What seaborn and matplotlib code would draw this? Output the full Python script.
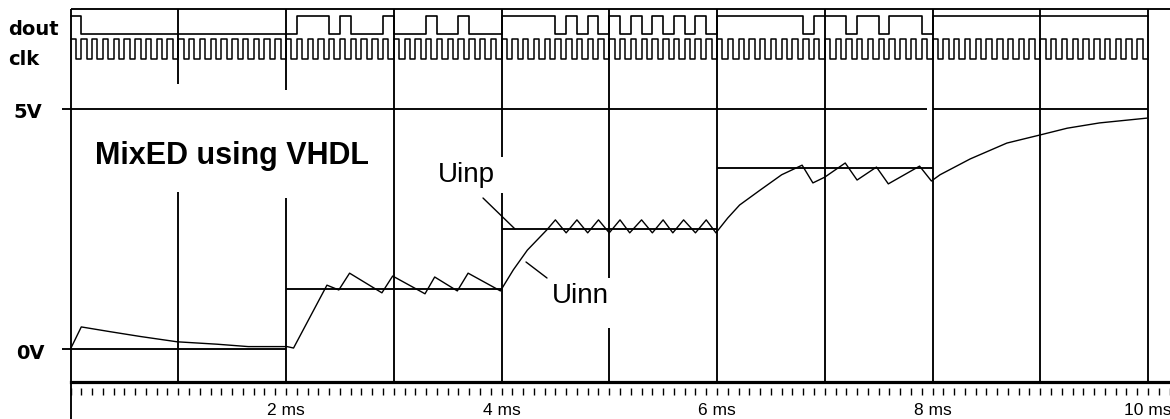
import numpy as np
import matplotlib
matplotlib.use("Agg")
import matplotlib.pyplot as plt
import seaborn as sns

# ---------------- data ----------------
ms_ticks = [0, 1, 2, 3, 4, 5, 6, 7, 8, 9, 10]
tick_labels = ["", "", "2 ms", "", "4 ms", "", "6 ms", "", "8 ms", "", "10 ms"]

bit_period_ms = 0.1
dout_bits = ("1000000000" "0000000000" "0111010001" "0001001000" "1111101010"
             "1010101010" "1111111101" "1101101110" "1111111111" "1111111111")

clk_half_period_ms = 0.05
clk_levels = [1, 0] * 100

uinp_start = [0, 2, 4, 6, 8]
uinp_end = [2, 4, 6, 8, 10]
uinp_volts = [0.0, 1.24, 2.49, 3.77, 5.0]

uinn_t = [0.00, 0.10, 0.37, 0.65, 0.99, 1.36, 1.65, 2.01, 2.07,
          2.38, 2.49, 2.59, 2.89, 2.99, 3.29, 3.38, 3.59, 3.69, 3.99,
          4.11, 4.24, 4.42, 4.50, 4.60, 4.70, 4.80, 4.90, 5.00, 5.10,
          5.19, 5.30, 5.40, 5.50, 5.59, 5.69, 5.80, 5.90, 5.99,
          6.10, 6.21, 6.40, 6.60, 6.79, 6.89, 7.00, 7.19, 7.30, 7.48,
          7.59, 7.88, 7.99,
          8.07, 8.35, 8.69, 9.00, 9.25, 9.55, 9.99]
uinn_v = [0.00, 0.46, 0.36, 0.26, 0.15, 0.10, 0.05, 0.05, 0.02,
          1.33, 1.23, 1.58, 1.17, 1.52, 1.15, 1.50, 1.21, 1.58, 1.21,
          1.65, 2.06, 2.48, 2.69, 2.42, 2.69, 2.42, 2.69, 2.42, 2.69,
          2.42, 2.69, 2.42, 2.69, 2.42, 2.69, 2.42, 2.69, 2.42,
          2.73, 3.00, 3.31, 3.63, 3.83, 3.46, 3.58, 3.875, 3.52, 3.79,
          3.44, 3.81, 3.50,
          3.63, 3.96, 4.29, 4.46, 4.60, 4.71, 4.81]

# ---------------- layout helpers (pixel -> data) ----------------
W, H, DPI = 1170, 419, 100
X0_PX, PX_PER_MS = 70.5, 107.75
Y0_PX, PX_PER_V = 349.0, 48.0


def tx(px):
    return (px - X0_PX) / PX_PER_MS


def vy(py):
    return (Y0_PX - py) / PX_PER_V


sns.set_theme(style="white")
plt.rcParams["font.family"] = ["Liberation Sans", "DejaVu Sans"]

fig = plt.figure(figsize=(W / DPI, H / DPI), dpi=DPI)
ax = fig.add_axes([0, 0, 1, 1])
ax.set_xlim(tx(0), tx(W))
ax.set_ylim(vy(H), vy(0))
ax.set_facecolor("white")

K = "black"
LW = 1.35

# top frame line
ax.hlines(vy(9), 0, tx(W), color=K, lw=LW)

# vertical grid lines (with gaps as in the reference)
grid_gaps = {0: [(9, 419)], 1: [(9, 84), (192, 382)], 2: [(9, 90), (198, 382)],
             4: [(9, 157), (193, 382)], 5: [(9, 278), (328, 382)]}
for m in ms_ticks:
    for (a, b) in grid_gaps.get(m, [(9, 382)]):
        ax.vlines(m, vy(b), vy(a), color=K, lw=LW)

# minor ticks below axis
minor = [round(v, 1) for v in np.arange(0, 10.25, 0.1)]
ax.vlines(minor, vy(395), vy(388), color=K, lw=1.0)

# x axis (bottom spine at data position)
for s in ["top", "left", "right"]:
    ax.spines[s].set_visible(False)
ax.spines["bottom"].set_position(("data", vy(382)))
ax.spines["bottom"].set_bounds(0, tx(W))
ax.spines["bottom"].set_linewidth(2.3)
ax.spines["bottom"].set_color(K)
ax.set_yticks([])
ax.set_xticks(ms_ticks)
ax.set_xticklabels(tick_labels)
ax.tick_params(axis="x", direction="out", length=13 * 0.72, width=1.0,
               colors=K, pad=6, labelsize=12.5)
for lab in ax.get_xticklabels():
    lab.set_fontfamily(["Liberation Sans Narrow", "DejaVu Sans Condensed", "Liberation Sans"])

# reference lines 5V / 0V stubs
ax.hlines(vy(109), tx(62), tx(927), color=K, lw=LW)
ax.hlines(0, tx(62), 0, color=K, lw=LW)

# Uinp staircase
ax.hlines(uinp_volts, uinp_start, uinp_end, color=K, lw=LW)

# Uinn curve
sns.lineplot(x=uinn_t, y=uinn_v, ax=ax, color=K, lw=1.0,
             estimator=None, sort=False)

# digital traces
DOUT_HI, DOUT_LO = vy(16), vy(34.5)
CLK_HI, CLK_LO = vy(39), vy(59.5)
bits = [int(c) for c in dout_bits]
t_d = [k * bit_period_ms for k in range(len(bits))] + [len(bits) * bit_period_ms]
y_d = [DOUT_LO + (DOUT_HI - DOUT_LO) * b for b in bits + [bits[-1]]]
sns.lineplot(x=t_d, y=y_d, ax=ax, color=K, lw=1.2, drawstyle="steps-post",
             estimator=None, sort=False)

t_c = [k * clk_half_period_ms for k in range(len(clk_levels))] + \
      [len(clk_levels) * clk_half_period_ms]
y_c = [CLK_LO + (CLK_HI - CLK_LO) * b for b in clk_levels + [clk_levels[-1]]]
sns.lineplot(x=t_c, y=y_c, ax=ax, color=K, lw=1.1, drawstyle="steps-post",
             estimator=None, sort=False)

# labels
bold_small = dict(fontfamily=["DejaVu Sans"], fontweight="bold", fontsize=14,
                  color=K, ha="left", va="baseline")
ax.text(tx(8), vy(35), "dout", **bold_small)
ax.text(tx(8), vy(65), "clk", **bold_small)
ax.text(tx(13), vy(118), "5V", **bold_small)
ax.text(tx(16), vy(359), "0V", **bold_small)

ax.text(tx(95), vy(164), "MixED using VHDL", fontfamily=["Liberation Sans"],
        fontweight="bold", fontsize=22, color=K, ha="left", va="baseline")
ax.text(tx(438), vy(182), "Uinp", fontfamily=["Liberation Sans"], fontsize=20,
        color=K, ha="left", va="baseline")
ax.text(tx(552), vy(303), "Uinn", fontfamily=["Liberation Sans"], fontsize=20,
        color=K, ha="left", va="baseline")

# leader lines
ax.plot([tx(483), tx(515)], [vy(198), vy(229)], color=K, lw=1.0)
ax.plot([tx(526), tx(547)], [vy(262), vy(278)], color=K, lw=1.0)

fig.savefig("out.png", dpi=DPI, facecolor="white")
